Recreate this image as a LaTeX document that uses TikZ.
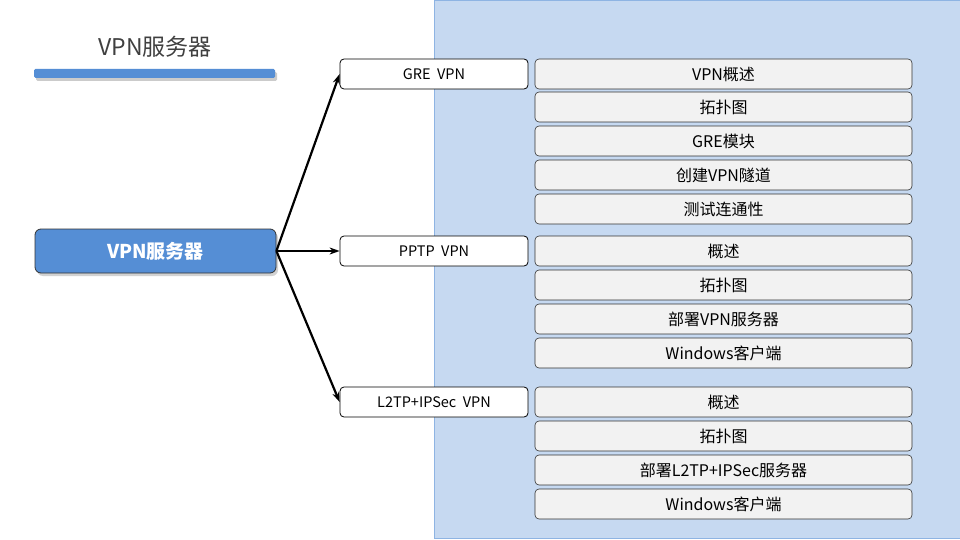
\documentclass[tikz,border=0pt]{standalone}
\usepackage{fontspec}
\setmainfont{Noto Sans CJK SC}
\usetikzlibrary{arrows.meta,shadows}
\definecolor{panelblue}{HTML}{C6D9F1}
\definecolor{panelline}{HTML}{8EB4E3}
\definecolor{mainblue}{HTML}{558ED5}
\definecolor{subfill}{HTML}{F2F2F2}
\definecolor{titlegrey}{HTML}{404040}
\begin{document}
\begin{tikzpicture}[x=1pt,y=-1pt,
  catbox/.style={draw=black, fill=white, rounded corners=4pt, line width=0.8pt,
    minimum width=188pt, minimum height=30pt, inner sep=0pt, font=\fontsize{14.5}{16}\selectfont},
  subbox/.style={draw=black!80, fill=subfill, rounded corners=4pt, line width=0.6pt,
    minimum width=377pt, minimum height=30pt, inner sep=0pt, font=\fontsize{16}{18}\selectfont},
  link/.style={-{Stealth[length=10pt,width=7pt]}, line width=2.2pt}]
\useasboundingbox (0,0) rectangle (960,540);
\fill[white] (0,0) rectangle (960,540);
\draw[fill=panelblue, draw=panelline, line width=0.8pt] (434,0.5) rectangle (960,538.5);
\node[text=titlegrey, font=\fontsize{23}{26}\selectfont] (title) at (155,47) {VPN服务器};
\fill[black!40, opacity=0.5, rounded corners=1.5pt] (36,72) rectangle (277,81);
\fill[mainblue, rounded corners=1.5pt] (34,69) rectangle (275,78);
\node[draw=black!80, fill=mainblue, rounded corners=6pt, line width=0.8pt,
  minimum width=241pt, minimum height=44pt, text=white,
  font=\fontsize{19}{22}\selectfont\bfseries,
  drop shadow={shadow xshift=2pt, shadow yshift=-3pt, opacity=0.35}] (main) at (155.5,251) {VPN服务器};
\node[catbox] (gre) at (434,74) {GRE\ \ VPN};
\node[catbox] (pptp) at (434,251) {PPTP\ \ VPN};
\node[catbox] (l2tp) at (434,402) {L2TP+IPSec\ \ VPN};
\node[subbox] (g1) at (723.5,74) {VPN概述};
\node[subbox] (g2) at (723.5,107) {拓扑图};
\node[subbox] (g3) at (723.5,141) {GRE模块};
\node[subbox] (g4) at (723.5,175) {创建VPN隧道};
\node[subbox] (g5) at (723.5,209) {测试连通性};
\node[subbox] (p1) at (723.5,251) {概述};
\node[subbox] (p2) at (723.5,285) {拓扑图};
\node[subbox] (p3) at (723.5,319) {部署VPN服务器};
\node[subbox] (p4) at (723.5,353) {Windows客户端};
\node[subbox] (l1) at (723.5,402) {概述};
\node[subbox] (l2) at (723.5,436) {拓扑图};
\node[subbox] (l3) at (723.5,470) {部署L2TP+IPSec服务器};
\node[subbox] (l4) at (723.5,504) {Windows客户端};
\draw[link] (main.east) -- (gre.west);
\draw[link] (main.east) -- (pptp.west);
\draw[link] (main.east) -- (l2tp.west);
\end{tikzpicture}
\end{document}
